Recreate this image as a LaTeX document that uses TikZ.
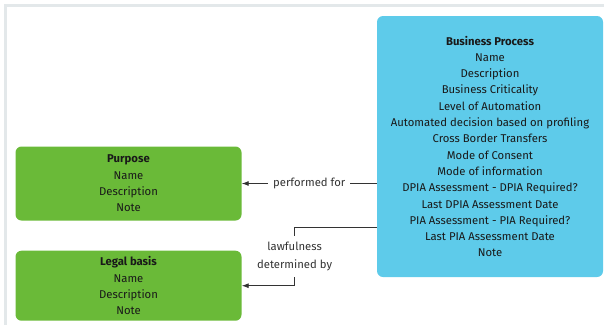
\documentclass[tikz,border=0pt]{standalone}
\usepackage{fontspec}
\setmainfont{Fira Sans}
\usepackage{tikz}
\usetikzlibrary{arrows.meta,positioning,calc}
\definecolor{procblue}{RGB}{94,203,234}
\definecolor{entgreen}{RGB}{106,186,56}
\definecolor{framegray}{RGB}{227,232,234}
\tikzset{
  ent/.style={fill=entgreen,rounded corners=6pt,align=center,font=\fontsize{11.3}{16.3}\selectfont,minimum width=226pt,text=black!90},
  proc/.style={ent,fill=procblue},
  arr/.style={-{Latex[length=7pt,width=5pt]},draw=black!80,line width=0.9pt},
  lbl/.style={fill=white,font=\fontsize{11.3}{18}\selectfont,text=black!80,align=center,inner xsep=5pt,inner ysep=6pt},
}

\begin{document}
\begin{tikzpicture}[x=1pt,y=-1pt]
\useasboundingbox (0,0) rectangle (604,325);
\fill[framegray] (4,4) rectangle (604,7);
\fill[framegray] (4,4) rectangle (7,325);
\node[proc,minimum height=261pt] (bp) at (490,146.5) {\textbf{Business Process}\\Name\\Description\\Business Criticality\\Level of Automation\\Automated decision based on profiling\\Cross Border Transfers\\Mode of Consent\\Mode of information\\DPIA Assessment - DPIA Required?\\Last DPIA Assessment Date\\PIA Assessment - PIA Required?\\Last PIA Assessment Date\\Note};
\node[ent,minimum height=74pt] (purpose) at (128.5,183.5) {\textbf{Purpose}\\Name\\Description\\Note};
\node[ent,minimum height=70pt] (legal) at (128.5,285.7) {\textbf{Legal basis}\\Name\\Description\\Note};
\draw[arr] (bp.west |- purpose.east) -- node[lbl]{performed for} (purpose.east);
\draw[arr] (bp.west |- 0,227.3) -- ++(-82.2,0) |- node[lbl,pos=0.25]{lawfulness\\determined by} (legal.east);
\end{tikzpicture}
\end{document}
